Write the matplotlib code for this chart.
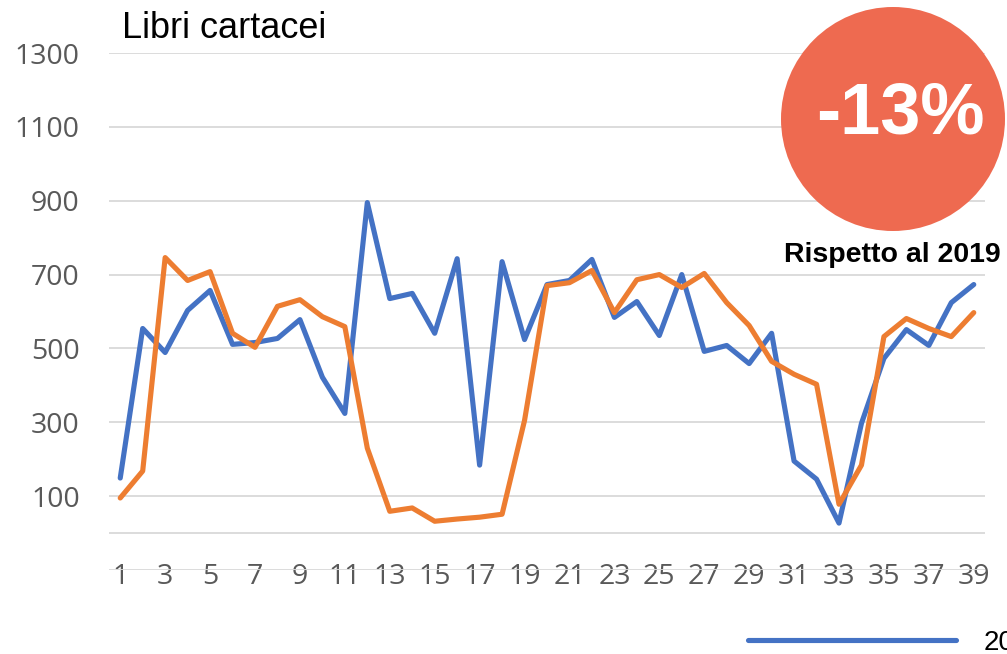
import matplotlib
matplotlib.use('Agg')
import matplotlib.pyplot as plt
from matplotlib.patches import Circle

# settimane 1..39
weeks = list(range(1, 40))

# 2020 (blu)
libri_2020 = [149, 554, 489, 603, 657, 511, 516, 527, 578, 422,
              324, 895, 635, 649, 541, 743, 184, 735, 524, 673,
              684, 741, 584, 627, 535, 700, 492, 508, 459, 541,
              195, 146, 27, 297, 473, 551, 508, 624, 673]

# 2019 (arancione)
libri_2019 = [95, 168, 746, 684, 708, 541, 503, 614, 632, 586,
              559, 230, 59, 68, 32, 38, 43, 51, 305, 670,
              678, 711, 597, 686, 700, 665, 703, 624, 562, 465,
              430, 403, 78, 184, 532, 581, 554, 532, 597]

y_ticks = [-100, 100, 300, 500, 700, 900, 1100, 1300]
y_labels = ['', '100', '300', '500', '700', '900', '1100', '1300']
x_ticks = list(range(1, 40, 2))

fig = plt.figure(figsize=(10.07, 6.54), dpi=100)
ax = fig.add_axes([109/1007, 1 - 570/654, 876/1007, 517/654])

l20, = ax.plot(weeks, libri_2020, color='#4472C4', lw=3.7, label='2020',
               solid_joinstyle='round', solid_capstyle='round')
ax.plot(weeks, libri_2019, color='#ED7D31', lw=3.7, label='2019',
        solid_joinstyle='round', solid_capstyle='round')

ax.set_xlim(0.5, 39.5)
ax.set_ylim(-100, 1300)
ax.set_yticks(y_ticks)
ax.set_yticklabels(y_labels)
ax.set_xticks(x_ticks)
ax.grid(axis='y', color='#D9D9D9', lw=1.3)
ax.axhline(0, color='#D9D9D9', lw=1.3, zorder=0.5)
ax.set_axisbelow(True)
for s in ax.spines.values():
    s.set_visible(False)
ax.tick_params(axis='both', length=0, labelsize=20.5, labelcolor='#595959')
ax.tick_params(axis='y', pad=21)
ax.tick_params(axis='x', pad=-5)
for lab in ax.get_xticklabels() + ax.get_yticklabels():
    lab.set_fontfamily('Open Sans')

fig.text(122/1007, 1 - 29/654, 'Libri cartacei', fontsize=26, family='Liberation Sans',
         ha='left', va='center', color='black')

circ = Circle((8.93, (654 - 119) / 100), 1.12, transform=fig.dpi_scale_trans,
              facecolor='#EE6A50', edgecolor='none', zorder=5)
fig.add_artist(circ)
fig.text(900/1007, 1 - 115/654, '-13%', fontsize=52, family='Liberation Sans',
         weight='bold', color='white', ha='center', va='center', zorder=6)
fig.text(892/1007, 1 - 255/654, 'Rispetto al 2019', fontsize=20.5, family='Liberation Sans',
         weight='bold', color='black', ha='center', va='center')

# legenda tagliata al bordo come nell'originale
fig.legend(handles=[l20], loc='center left', bbox_to_anchor=(748/1007, 1 - 643/654),
           frameon=False, handlelength=7.5, borderpad=0, borderaxespad=0,
           handletextpad=1.0, prop={'family': 'Liberation Sans', 'size': 20})

fig.savefig('out.png', dpi=100)
